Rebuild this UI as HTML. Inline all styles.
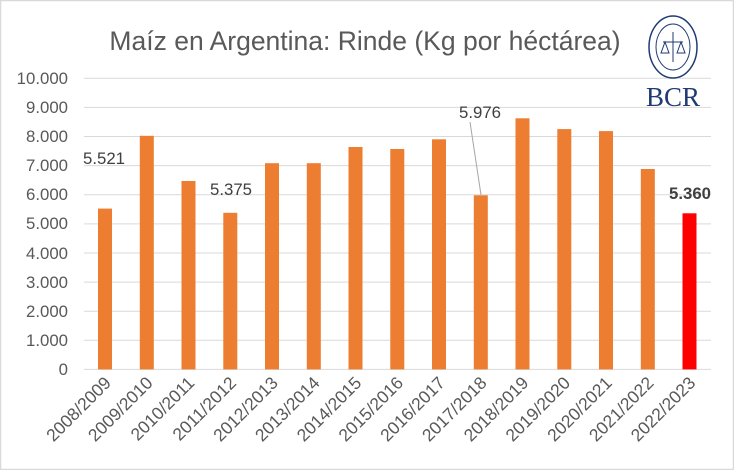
<!DOCTYPE html><html><head><meta charset="utf-8"><style>
body{margin:0;background:#fff}
svg{display:block;font-family:"Liberation Sans",sans-serif}
</style></head><body>
<svg width="734" height="470" viewBox="0 0 734 470">
<rect x="0.5" y="0.5" width="733" height="469" fill="#fff" stroke="#d9d9d9" stroke-width="1.5"/>
<text x="365" y="50" text-anchor="middle" font-size="26.5" fill="#595959">Maíz en Argentina: Rinde (Kg por héctárea)</text>
<g stroke="#d9d9d9" stroke-width="1">
<line x1="84" x2="711" y1="78.3" y2="78.3"/><line x1="84" x2="711" y1="107.4" y2="107.4"/><line x1="84" x2="711" y1="136.5" y2="136.5"/><line x1="84" x2="711" y1="165.6" y2="165.6"/><line x1="84" x2="711" y1="194.8" y2="194.8"/><line x1="84" x2="711" y1="223.9" y2="223.9"/><line x1="84" x2="711" y1="253" y2="253"/><line x1="84" x2="711" y1="282.1" y2="282.1"/><line x1="84" x2="711" y1="311.2" y2="311.2"/><line x1="84" x2="711" y1="340.3" y2="340.3"/><line x1="84" x2="711" y1="369.4" y2="369.4"/>
</g>
<g font-size="16.8" fill="#595959" text-anchor="end">
<text x="68" y="84">10.000</text><text x="68" y="113">9.000</text><text x="68" y="142">8.000</text><text x="68" y="171">7.000</text><text x="68" y="200">6.000</text><text x="68" y="229">5.000</text><text x="68" y="259">4.000</text><text x="68" y="288">3.000</text><text x="68" y="317">2.000</text><text x="68" y="346">1.000</text><text x="68" y="375">0</text>
</g>
<g fill="#ed7d31">
<rect x="98" y="208.6" width="14" height="160.8"/>
<rect x="139.8" y="135.8" width="14" height="233.6"/>
<rect x="181.5" y="181" width="14" height="188.4"/>
<rect x="223.3" y="212.8" width="14" height="156.6"/>
<rect x="265" y="163.2" width="14" height="206.2"/>
<rect x="306.8" y="163.2" width="14" height="206.2"/>
<rect x="348.5" y="147" width="14" height="222.4"/>
<rect x="390.3" y="149" width="14" height="220.4"/>
<rect x="432" y="139.3" width="14" height="230.1"/>
<rect x="473.8" y="195.3" width="14" height="174.1"/>
<rect x="515.5" y="118.3" width="14" height="251.1"/>
<rect x="557.3" y="129.1" width="14" height="240.3"/>
<rect x="599" y="131.1" width="14" height="238.3"/>
<rect x="640.8" y="169" width="14" height="200.4"/>
</g>
<rect x="682.5" y="213.3" width="14" height="156.1" fill="#ff0000"/>
<line x1="470" y1="122" x2="481" y2="195" stroke="#a6a6a6" stroke-width="1"/>
<g font-size="16.8" fill="#404040" text-anchor="middle">
<text x="104" y="164">5.521</text>
<text x="231" y="195">5.375</text>
<text x="480" y="118">5.976</text>
<text x="690" y="199" font-weight="bold">5.360</text>
</g>
<g font-size="17.5" fill="#595959" text-anchor="end">
<text transform="translate(112,384) rotate(-45)">2008/2009</text>
<text transform="translate(153.8,384) rotate(-45)">2009/2010</text>
<text transform="translate(195.5,384) rotate(-45)">2010/2011</text>
<text transform="translate(237.3,384) rotate(-45)">2011/2012</text>
<text transform="translate(279,384) rotate(-45)">2012/2013</text>
<text transform="translate(320.8,384) rotate(-45)">2013/2014</text>
<text transform="translate(362.5,384) rotate(-45)">2014/2015</text>
<text transform="translate(404.3,384) rotate(-45)">2015/2016</text>
<text transform="translate(446,384) rotate(-45)">2016/2017</text>
<text transform="translate(487.8,384) rotate(-45)">2017/2018</text>
<text transform="translate(529.5,384) rotate(-45)">2018/2019</text>
<text transform="translate(571.3,384) rotate(-45)">2019/2020</text>
<text transform="translate(613,384) rotate(-45)">2020/2021</text>
<text transform="translate(654.8,384) rotate(-45)">2021/2022</text>
<text transform="translate(696.5,384) rotate(-45)">2022/2023</text>
</g>
<g transform="translate(673,47)" stroke="#1f3a75" fill="none">
<ellipse cx="0" cy="0" rx="24" ry="31" stroke-width="1.5"/>
<ellipse cx="0" cy="0" rx="17" ry="23" stroke-width="1"/>
<line x1="-10" y1="-5" x2="10" y2="-5"/><line x1="0" y1="-15" x2="0" y2="15"/>
<path d="M-12,6 L-8,-5 L-4,6 Z M4,6 L8,-5 L12,6 Z"/>
</g>
<text x="673" y="106" text-anchor="middle" font-family="Liberation Serif,serif" font-size="27" fill="#1f3a75">BCR</text>
</svg>
</body></html>
